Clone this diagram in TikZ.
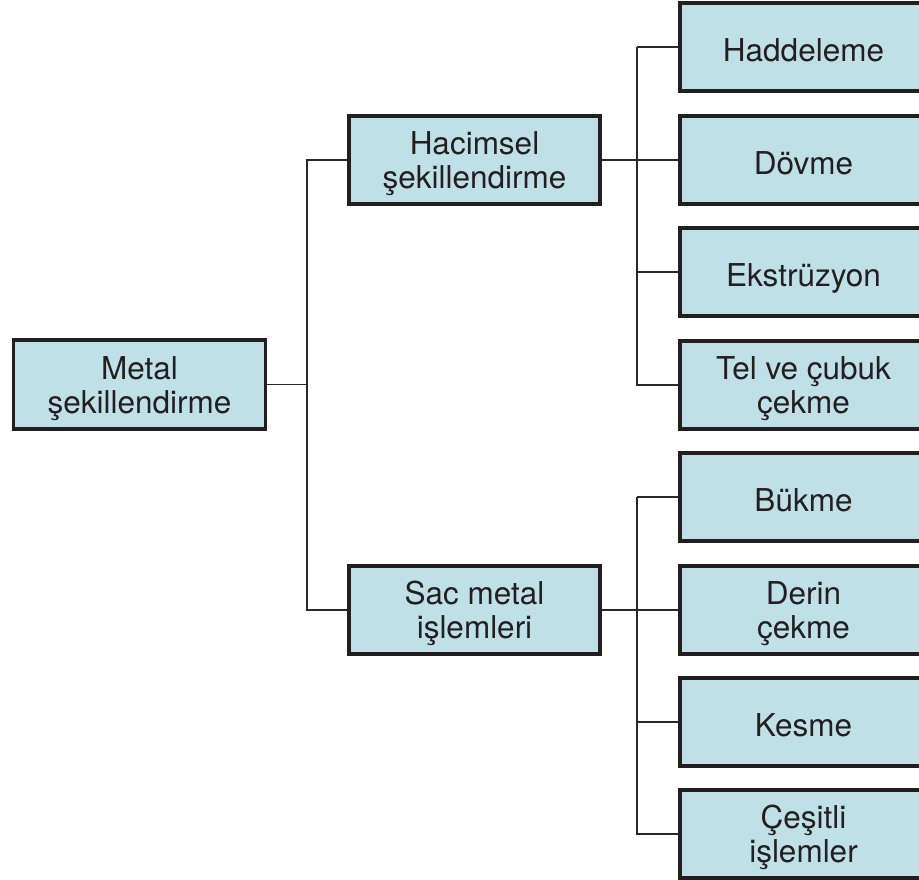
\documentclass[tikz,border=0pt]{standalone}
\usepackage{fontspec}
\setmainfont{TeX Gyre Heros}
\definecolor{boxfill}{RGB}{192,224,232}
\definecolor{boxline}{RGB}{35,31,32}
\definecolor{conline}{RGB}{40,40,40}
\newcommand\tstr{\rule{0pt}{31pt}}
\begin{document}
\begin{tikzpicture}[x=1pt,y=1pt,
  box/.style={draw=boxline,line width=3.6pt,fill=boxfill,rectangle,align=center,
    inner sep=0pt,font=\fontsize{31.5}{34}\selectfont,text=boxline},
  one/.style={text height=28.6pt,text depth=0pt},
  midbox/.style={box,minimum width=251pt,minimum height=88pt},
  leafbox/.style={box,minimum width=247pt,minimum height=88pt},
  con/.style={draw=conline,line width=1.9pt}]
\useasboundingbox (0,0) rectangle (919,-880);
\node[box,minimum width=252pt,minimum height=89pt] (root) at (139.5,-384.5) {\tstr Metal\\şekillendirme};
\node[midbox] (hac) at (474.5,-160) {\tstr Hacimsel\\şekillendirme};
\node[midbox] (sac) at (474.5,-610) {\tstr Sac metal\\işlemleri};
\node[leafbox,one] (r1) at (803.5,-47) {Haddeleme};
\node[leafbox,one] (r2) at (803.5,-160) {Dövme};
\node[leafbox,one] (r3) at (803.5,-272) {Ekstrüzyon};
\node[leafbox] (r4) at (803.5,-385) {\tstr Tel ve çubuk\\çekme};
\node[leafbox,one] (r5) at (803.5,-497) {Bükme};
\node[leafbox] (r6) at (803.5,-610) {\tstr Derin\\çekme};
\node[leafbox,one] (r7) at (803.5,-722) {Kesme};
\node[leafbox] (r8) at (803.5,-834) {\tstr Çeşitli\\işlemler};
% root to middle
\draw[con] (root.east) -- (307,-384.5) coordinate (j0);
\draw[con] (j0) |- (hac.west);
\draw[con] (j0) |- (sac.west);
% upper group
\draw[con] (hac.east) -- (r2.west);
\draw[con] (r1.west) -- ++(-41,0) coordinate (ju);
\draw[con] (ju) |- (r3.west);
\draw[con] (ju) |- (r4.west);
% lower group
\draw[con] (sac.east) -- (r6.west);
\draw[con] (r5.west) -- ++(-41,0) coordinate (jl);
\draw[con] (jl) |- (r7.west);
\draw[con] (jl) |- (r8.west);
\end{tikzpicture}
\end{document}
